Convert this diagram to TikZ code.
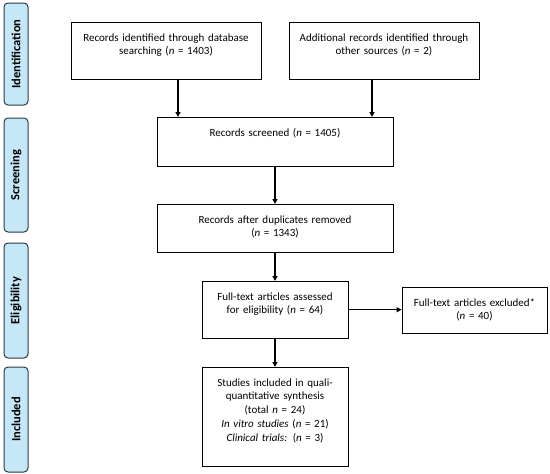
\documentclass[tikz,border=0pt]{standalone}
\usepackage{fontspec}
\setmainfont{Carlito}
\usepackage{xcolor}
\usepackage{tikz}
\usetikzlibrary{arrows.meta}
\definecolor{StageBlue}{HTML}{C6E7F8}
\definecolor{StageEdge}{HTML}{2B3A44}

\begin{document}
\begin{tikzpicture}[x = 1pt, y = -1pt,
  stage/.style={
      rotate = 90, draw = StageEdge, fill = StageBlue, line width = 1pt,
      rounded corners = 4pt, minimum width = #1, minimum height = 24pt,
      inner sep = 0pt, font = \fontsize{12.5}{14}\selectfont\bfseries
  },
  stepbox/.style={
      draw, line width = .8pt, anchor = north, align = center,
      inner xsep = 4pt, inner ysep = 11pt, text depth = #1,
      font = \fontsize{11}{13.75}\selectfont
  },
  flow/.style={-{Triangle[length = 5pt, width = 5pt]}, line width = 1.2pt}
]
  \useasboundingbox (0, 0) rectangle (550, 474);

  % phases on the left
  \foreach \name/\y/\len/\txt in {ident/54/102/Identification, screen/175/114/Screening,
      elig/300.5/115/Eligibility, incl/419.5/105/Included}
  \node[stage = \len] (stage-\name) at (16, \y) {\txt};

  \node[stepbox = 27pt, text width = 182pt] (recDB) at (166, 22)
      {Records identified through database\\ searching (\textit{n} = 1403)};
  \node[stepbox = 27pt, text width = 182pt] (recOther) at (384, 22)
      {Additional records identified through\\ other sources (\textit{n} = 2)};
  \node[stepbox = 19pt, text width = 228pt] (screened) at (275, 117)
      {Records screened (\textit{n} = 1405)};
  \node[stepbox = 18pt, text width = 228pt] (dedup) at (275, 204)
      {Records after duplicates removed\\ (\textit{n} = 1343)};
  \node[stepbox = 27pt, text width = 138pt] (fulltext) at (275, 281)
      {Full-text articles assessed\\ for eligibility (\textit{n} = 64)};
  \node[stepbox = 16pt, text width = 137pt] (excluded) at (474.5, 287)
      {Full-text articles excluded*\\ (\textit{n} = 40)};
  \node[stepbox = 69pt, text width = 138pt] (included) at (275, 367)
      {Studies included in quali-\\ quantitative synthesis\\ (total \textit{n} = 24)\\
       \textit{In vitro studies} (\textit{n} = 21)\\ \textit{Clinical trials:} (\textit{n} = 3)};

  \draw[flow] ([xshift = 12pt]recDB.south) -- ([xshift = 12pt]recDB.south |- screened.north);
  \draw[flow] ([xshift = -12pt]recOther.south) -- ([xshift = -12pt]recOther.south |- screened.north);
  \draw[flow] (screened.south) -- (dedup.north);
  \draw[flow] (dedup.south) -- (fulltext.north);
  \draw[flow] (fulltext.east) -- (fulltext.east -| excluded.west);
  \draw[flow] (fulltext.south) -- (included.north);

\end{tikzpicture}
\end{document}
